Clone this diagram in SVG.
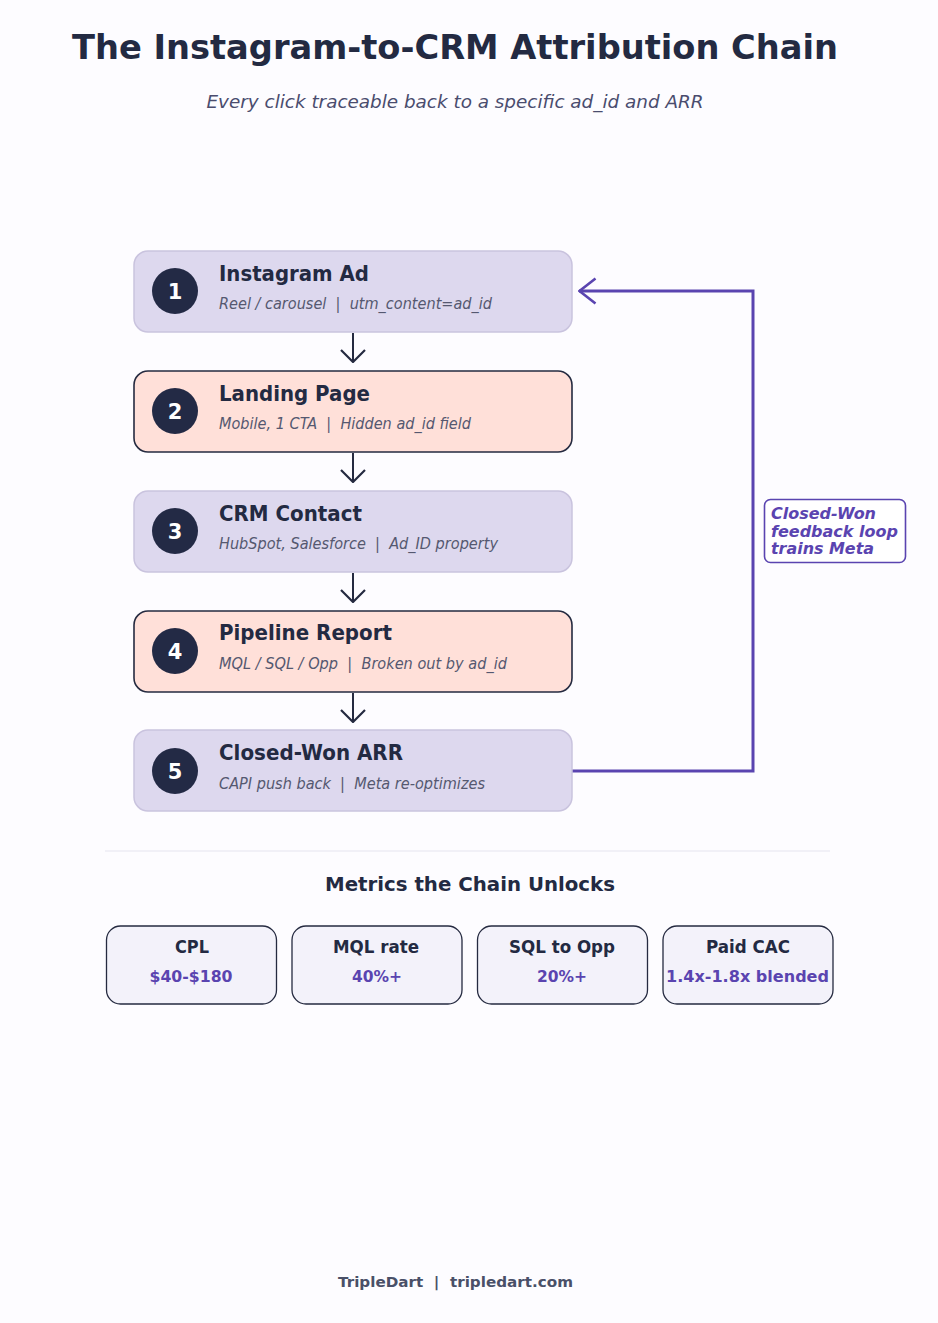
<svg xmlns="http://www.w3.org/2000/svg" width="938" height="1323" viewBox="0 0 938 1323">
<style>
text{font-family:"DejaVu Sans","Noto Sans",sans-serif;white-space:pre}
.title{font-size:34px;font-weight:bold;fill:#232a42}
.sub{font-size:17.5px;font-style:italic;fill:#4a4c6e}
.nodeA{fill:#ddd8ee;stroke:#c9c3de;stroke-width:1.5}
.nodeB{fill:#ffe0d9;stroke:#252a40;stroke-width:1.6}
.badge{fill:#232a45}
.num{font-size:21px;font-weight:bold;fill:#ffffff;text-anchor:middle}
.nt{font-size:20.5px;font-weight:bold;fill:#232a42}
.nd{font-size:15.5px;font-style:italic;fill:#555870}
.flow{stroke:#252a40;stroke-width:2;fill:none}
.fb{stroke:#5a44b0;stroke-width:3;fill:none}
.lbl{font-size:16px;font-weight:bold;font-style:italic;fill:#5a44b0}
.mbox{fill:#f3f2fa;stroke:#252a40;stroke-width:1.3}
.mk{font-size:17.5px;font-weight:bold;fill:#232a42;text-anchor:middle}
.mv{font-size:16px;font-weight:bold;fill:#5a44b0;text-anchor:middle}
</style>
<defs>
<marker id="ah" viewBox="0 0 14 26" refX="13" refY="13" markerWidth="14" markerHeight="26" markerUnits="userSpaceOnUse" orient="auto">
<path d="M1,1 L13,13 L1,25" fill="none" stroke="#252a40" stroke-width="2.2"/>
</marker>
<marker id="ahp" viewBox="0 0 19 28" refX="18" refY="14" markerWidth="19" markerHeight="28" markerUnits="userSpaceOnUse" orient="auto">
<path d="M1.5,1.5 L17.5,14 L1.5,26.5" fill="none" stroke="#5a44b0" stroke-width="2.6"/>
</marker>
</defs>
<rect width="938" height="1323" fill="#fdfcff"/>
<text class="title" x="455" y="59" text-anchor="middle" textLength="766" lengthAdjust="spacingAndGlyphs">The Instagram-to-CRM Attribution Chain</text>
<text class="sub" x="455" y="108" text-anchor="middle" textLength="497" lengthAdjust="spacingAndGlyphs">Every click traceable back to a specific ad_id and ARR</text>

<g id="connectors">
<line class="flow" x1="353" y1="333" x2="353" y2="362" marker-end="url(#ah)"/>
<line class="flow" x1="353" y1="453" x2="353" y2="482" marker-end="url(#ah)"/>
<line class="flow" x1="353" y1="573" x2="353" y2="602" marker-end="url(#ah)"/>
<line class="flow" x1="353" y1="693" x2="353" y2="722" marker-end="url(#ah)"/>
<path class="fb" d="M571,771 H753 V291 H579" marker-end="url(#ahp)"/>
</g>

<g id="node1">
<rect class="nodeA" x="134" y="251" width="438" height="81" rx="14"/>
<circle class="badge" cx="175" cy="291" r="23"/>
<text class="num" x="175" y="298.5">1</text>
<text class="nt" x="219" y="281" textLength="150" lengthAdjust="spacingAndGlyphs">Instagram Ad</text>
<text class="nd" x="219" y="309" textLength="273" lengthAdjust="spacingAndGlyphs">Reel / carousel  |  utm_content=ad_id</text>
</g>
<g id="node2">
<rect class="nodeB" x="134" y="371" width="438" height="81" rx="14"/>
<circle class="badge" cx="175" cy="411" r="23"/>
<text class="num" x="175" y="418.5">2</text>
<text class="nt" x="219" y="401" textLength="151" lengthAdjust="spacingAndGlyphs">Landing Page</text>
<text class="nd" x="219" y="429" textLength="252" lengthAdjust="spacingAndGlyphs">Mobile, 1 CTA  |  Hidden ad_id field</text>
</g>
<g id="node3">
<rect class="nodeA" x="134" y="491" width="438" height="81" rx="14"/>
<circle class="badge" cx="175" cy="531" r="23"/>
<text class="num" x="175" y="538.5">3</text>
<text class="nt" x="219" y="521" textLength="143" lengthAdjust="spacingAndGlyphs">CRM Contact</text>
<text class="nd" x="219" y="549" textLength="279" lengthAdjust="spacingAndGlyphs">HubSpot, Salesforce  |  Ad_ID property</text>
</g>
<g id="node4">
<rect class="nodeB" x="134" y="611" width="438" height="81" rx="14"/>
<circle class="badge" cx="175" cy="651" r="23"/>
<text class="num" x="175" y="658.5">4</text>
<text class="nt" x="219" y="640" textLength="173" lengthAdjust="spacingAndGlyphs">Pipeline Report</text>
<text class="nd" x="219" y="669" textLength="288" lengthAdjust="spacingAndGlyphs">MQL / SQL / Opp  |  Broken out by ad_id</text>
</g>
<g id="node5">
<rect class="nodeA" x="134" y="730" width="438" height="81" rx="14"/>
<circle class="badge" cx="175" cy="771" r="23"/>
<text class="num" x="175" y="778.5">5</text>
<text class="nt" x="219" y="760" textLength="184" lengthAdjust="spacingAndGlyphs">Closed-Won ARR</text>
<text class="nd" x="219" y="789" textLength="266" lengthAdjust="spacingAndGlyphs">CAPI push back  |  Meta re-optimizes</text>
</g>

<g id="feedback-label">
<rect x="764.5" y="499.5" width="141" height="63" rx="6" fill="#ffffff" stroke="#5a44b0" stroke-width="1.6"/>
<text class="lbl" x="771" y="519" textLength="105" lengthAdjust="spacingAndGlyphs">Closed-Won</text>
<text class="lbl" x="771" y="537" textLength="127" lengthAdjust="spacingAndGlyphs">feedback loop</text>
<text class="lbl" x="771" y="554" textLength="103" lengthAdjust="spacingAndGlyphs">trains Meta</text>
</g>

<line x1="105" y1="851" x2="830" y2="851" stroke="#ececf4" stroke-width="1.5"/>
<text x="470" y="891" text-anchor="middle" textLength="290" lengthAdjust="spacingAndGlyphs" style="font-size:19.5px;font-weight:bold;fill:#232a42">Metrics the Chain Unlocks</text>

<g id="metric-cpl">
<rect class="mbox" x="106.5" y="926" width="170" height="78" rx="14"/>
<text class="mk" x="192" y="953" textLength="34" lengthAdjust="spacingAndGlyphs">CPL</text>
<text class="mv" x="191" y="982" textLength="83" lengthAdjust="spacingAndGlyphs">$40-$180</text>
</g>
<g id="metric-mql">
<rect class="mbox" x="292" y="926" width="170" height="78" rx="14"/>
<text class="mk" x="376" y="953" textLength="86" lengthAdjust="spacingAndGlyphs">MQL rate</text>
<text class="mv" x="377" y="982" textLength="50" lengthAdjust="spacingAndGlyphs">40%+</text>
</g>
<g id="metric-sql">
<rect class="mbox" x="477.5" y="926" width="170" height="78" rx="14"/>
<text class="mk" x="562" y="953" textLength="106" lengthAdjust="spacingAndGlyphs">SQL to Opp</text>
<text class="mv" x="562" y="982" textLength="50" lengthAdjust="spacingAndGlyphs">20%+</text>
</g>
<g id="metric-cac">
<rect class="mbox" x="663" y="926" width="170" height="78" rx="14"/>
<text class="mk" x="748" y="953" textLength="84" lengthAdjust="spacingAndGlyphs">Paid CAC</text>
<text class="mv" x="747.5" y="982" textLength="163" lengthAdjust="spacingAndGlyphs">1.4x-1.8x blended</text>
</g>

<text x="455.5" y="1287" text-anchor="middle" textLength="235" lengthAdjust="spacingAndGlyphs" style="font-size:14.5px;font-weight:bold;fill:#4a5068">TripleDart  |  tripledart.com</text>
</svg>
